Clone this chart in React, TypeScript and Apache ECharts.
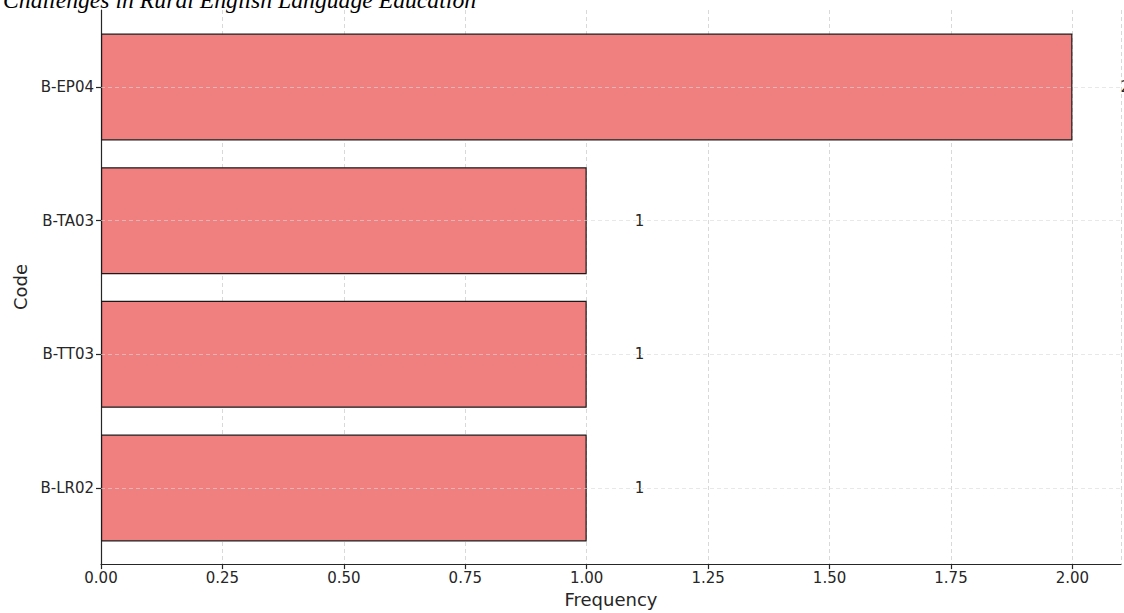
import React, { useEffect, useRef } from "react";
import * as echarts from "echarts";

const titleText = "Challenges in Rural English Language Education";
const codes = ["B-LR02", "B-TT03", "B-TA03", "B-EP04"];
const frequencies = [1, 1, 1, 2];
const xMin = 0;
const xMax = 2.1;
const xInterval = 0.25;
const xAxisName = "Frequency";
const yAxisName = "Code";

const FONT = "DejaVu Sans";
const TEXT = "#262626";
const GRIDC = "#d9d9d9";

export default function App() {
  const ref = useRef<HTMLDivElement>(null);
  useEffect(() => {
    if (!ref.current) return;
    const chart = echarts.init(ref.current, undefined, { renderer: "svg" });
    const L = 101;
    const R = 1124 - 1121;
    const option: any = {
      animation: false,
      backgroundColor: "#ffffff",
      graphic: [
        {
          type: "text",
          left: 3,
          top: -12,
          style: {
            text: titleText,
            font: "italic 23.7px 'Liberation Serif'",
            fill: "#000",
          },
        },
      ],
      grid: [
        { left: L, right: R, top: 10, bottom: 613 - 566, containLabel: false },
        { left: L, right: R, top: 87, bottom: 613 - 488, containLabel: false },
      ],
      xAxis: [
        {
          gridIndex: 0,
          type: "value",
          min: xMin,
          max: xMax,
          interval: xInterval,
          name: xAxisName,
          nameLocation: "middle",
          nameGap: 25,
          nameTextStyle: { fontFamily: FONT, fontSize: 18, color: TEXT },
          axisLine: { show: true, lineStyle: { color: TEXT, width: 1.2 } },
          axisTick: { show: true, inside: false, length: 5, lineStyle: { color: TEXT, width: 1.2 } },
          axisLabel: {
            show: true,
            margin: 6,
            fontFamily: FONT,
            fontSize: 15,
            color: TEXT,
            showMaxLabel: false,
            formatter: (v: number) => {
              const k = v / xInterval;
              return Math.abs(k - Math.round(k)) < 1e-6 ? v.toFixed(2) : "";
            },
          },
          splitLine: { show: true, lineStyle: { color: GRIDC, width: 1, type: [4, 3] } },
        },
        {
          gridIndex: 1,
          type: "value",
          min: xMin,
          max: xMax,
          show: false,
          splitLine: { show: false },
        },
      ],
      yAxis: [
        {
          gridIndex: 0,
          type: "value",
          min: 0,
          max: 1,
          name: yAxisName,
          nameLocation: "middle",
          nameRotate: 90,
          nameGap: 72,
          nameTextStyle: { fontFamily: FONT, fontSize: 18, color: TEXT },
          axisLine: { show: true, lineStyle: { color: TEXT, width: 1.2 } },
          axisTick: { show: false },
          axisLabel: { show: false },
          splitLine: { show: false },
        },
        {
          gridIndex: 1,
          type: "category",
          data: codes,
          boundaryGap: false,
          z: 3,
          axisLine: { show: false },
          axisTick: { show: true, inside: false, length: 5, lineStyle: { color: TEXT, width: 1.2 } },
          axisLabel: { margin: 7, fontFamily: FONT, fontSize: 15, color: TEXT },
          splitLine: { show: true, lineStyle: { color: GRIDC, width: 1, type: [4, 3], opacity: 0.6 } },
        },
      ],
      series: [
        {
          type: "bar",
          xAxisIndex: 1,
          yAxisIndex: 1,
          data: frequencies,
          barWidth: "80%",
          clip: false,
          itemStyle: { color: "#F08080", borderColor: "#1a1a1a", borderWidth: 1.2 },
          label: {
            show: true,
            position: "right",
            distance: 48,
            fontFamily: FONT,
            fontSize: 15,
            color: TEXT,
          },
        },
      ],
    };
    chart.setOption(option);
    return () => chart.dispose();
  }, []);
  return <div ref={ref} style={{ width: 1124, height: 613, position: "absolute", left: 0, top: 0 }} />;
}
